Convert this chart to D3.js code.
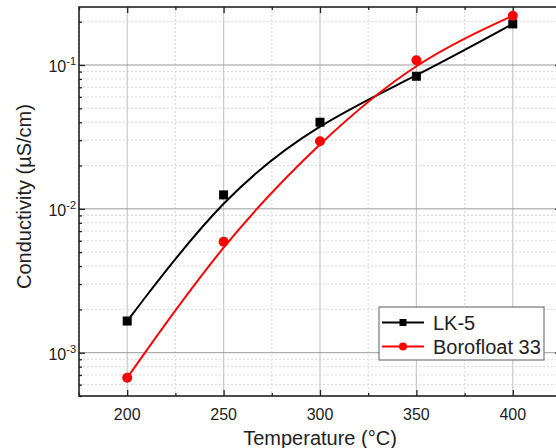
<!DOCTYPE html>
<html>
<head>
<meta charset="utf-8">
<script src="https://cdn.jsdelivr.net/npm/d3@7"></script>
<style>
    body { margin: 0; background: #fff; }
    text { font-family: "Liberation Sans", Arial, sans-serif; fill: #222; }
</style>
</head>
<body>
<div id="chart"></div>
<script>
// values
const temps = [200, 250, 300, 350, 400];
const lk5 = [0.00166, 0.0125, 0.040, 0.0835, 0.193];
const borofloat = [0.00067, 0.0059, 0.0295, 0.108, 0.22];
const seriesNames = ['LK-5', 'Borofloat 33'];
const xTicks = [200, 250, 300, 350, 400];
const yTickPowers = [-3, -2, -1];

const series = [
    { name: seriesNames[0], values: lk5, color: '#000000', shape: 'square' },
    { name: seriesNames[1], values: borofloat, color: '#ff0000', shape: 'circle' }
];

let margin = { top: 7, right: -5, bottom: 52, left: 79 };
let totalW = 556, totalH = 448;
let width = totalW - margin.left - margin.right;
let height = totalH - margin.top - margin.bottom;

let svg = d3.select('#chart').append('svg')
    .attr('width', totalW)
    .attr('height', totalH)
    .style('display', 'block');

let g = svg.append('g')
    .attr('transform', `translate(${margin.left},${margin.top})`);

let x = d3.scaleLinear().domain([175, 425]).range([0, width]);
let y = d3.scaleLog().domain([5e-4, 0.253]).range([height, 0]);

// minor values
let xMinor = d3.range(175, 426, 25).filter(v => !xTicks.includes(v));
let yMinor = [];
[-4, -3, -2, -1].forEach(p => {
    for (let k = 2; k <= 9; k++) {
        let v = k * Math.pow(10, p);
        if (v >= y.domain()[0] && v <= y.domain()[1]) yMinor.push(v);
    }
});
let yMajor = yTickPowers.map(p => Math.pow(10, p));

// grid
let grid = g.append('g').attr('class', 'grid');
grid.selectAll('.xminor').data(xMinor).enter().append('line')
    .attr('x1', d => x(d)).attr('x2', d => x(d))
    .attr('y1', 0).attr('y2', height)
    .attr('stroke', '#d8d8d8').attr('stroke-dasharray', '2,2');
grid.selectAll('.yminor').data(yMinor).enter().append('line')
    .attr('x1', 0).attr('x2', width)
    .attr('y1', d => y(d)).attr('y2', d => y(d))
    .attr('stroke', '#d8d8d8').attr('stroke-dasharray', '2,2');
grid.selectAll('.xmajor').data(xTicks).enter().append('line')
    .attr('x1', d => x(d)).attr('x2', d => x(d))
    .attr('y1', 0).attr('y2', height)
    .attr('stroke', '#c8c8c8').attr('stroke-width', 1.2);
grid.selectAll('.ymajor').data(yMajor).enter().append('line')
    .attr('x1', 0).attr('x2', width)
    .attr('y1', d => y(d)).attr('y2', d => y(d))
    .attr('stroke', '#9a9a9a').attr('stroke-width', 1);

// axes, ticks pointing inward
function tickAxis(axisFn, scale, values, size) {
    return axisFn(scale).tickValues(values).tickSize(size).tickFormat('');
}
let axes = g.append('g').attr('class', 'axes');
axes.append('g').attr('transform', `translate(0,${height})`)
    .call(tickAxis(d3.axisTop, x, xTicks, 6));
axes.append('g').attr('transform', `translate(0,${height})`)
    .call(tickAxis(d3.axisTop, x, xMinor, 3));
axes.append('g').call(tickAxis(d3.axisBottom, x, xTicks, 6));
axes.append('g').call(tickAxis(d3.axisBottom, x, xMinor, 3));
axes.append('g').call(tickAxis(d3.axisRight, y, yMajor, 6));
axes.append('g').call(tickAxis(d3.axisRight, y, yMinor, 3));
axes.append('g').attr('transform', `translate(${width},0)`)
    .call(tickAxis(d3.axisLeft, y, yMajor, 6));
axes.append('g').attr('transform', `translate(${width},0)`)
    .call(tickAxis(d3.axisLeft, y, yMinor, 3));
axes.selectAll('.domain').remove();
axes.selectAll('.tick line').attr('stroke', '#222').attr('stroke-width', 1.3);

// frame
g.append('rect')
    .attr('width', width).attr('height', height)
    .attr('fill', 'none').attr('stroke', '#222').attr('stroke-width', 1.6);

// tick labels
g.selectAll('.xlabel').data(xTicks).enter().append('text')
    .attr('x', d => x(d)).attr('y', height + 24)
    .attr('text-anchor', 'middle')
    .style('font-size', '16px')
    .text(d => d);

let yl = g.selectAll('.ylabel').data(yTickPowers).enter().append('text')
    .attr('x', -3).attr('y', d => y(Math.pow(10, d)) + 7)
    .attr('text-anchor', 'end')
    .style('font-size', '16px');
yl.append('tspan').text('10');
yl.append('tspan').attr('dy', -7).style('font-size', '11px').text(d => '-' + Math.abs(d));

// axis titles
g.append('text')
    .attr('x', (x(175) + x(425)) / 2).attr('y', height + 49)
    .attr('text-anchor', 'middle')
    .style('font-size', '20px')
    .text('Temperature (\u00B0C)');
g.append('text')
    .attr('transform', `translate(${31 - margin.left},${height / 2 - 5}) rotate(-90)`)
    .attr('text-anchor', 'middle')
    .style('font-size', '20px')
    .text('Conductivity (\u00B5S/cm)');

// curves + markers
let line = d3.line()
    .x((d, i) => x(temps[i]))
    .y(d => y(d))
    .curve(d3.curveBasis);

let plot = g.append('g').attr('class', 'plot');
series.forEach(s => {
    plot.append('path')
        .datum(s.values)
        .attr('d', line)
        .attr('fill', 'none')
        .attr('stroke', s.color)
        .attr('stroke-width', 2);
});
function marker(sel, shape, color, size) {
    if (shape === 'square') {
        sel.append('rect')
            .attr('x', -size / 2).attr('y', -size / 2)
            .attr('width', size).attr('height', size)
            .attr('fill', color);
    } else {
        sel.append('circle').attr('r', size / 2 + 0.5).attr('fill', color);
    }
}
series.forEach(s => {
    s.values.forEach((v, i) => {
        let m = plot.append('g').attr('transform', `translate(${x(temps[i])},${y(v)})`);
        marker(m, s.shape, s.color, 9);
    });
});

// legend
let legend = svg.append('g').attr('transform', 'translate(379,307)');
legend.append('rect')
    .attr('width', 165).attr('height', 53)
    .attr('fill', '#fff').attr('stroke', '#777').attr('stroke-width', 1.2);
series.forEach((s, i) => {
    let row = legend.append('g').attr('transform', `translate(0,${15.5 + i * 24})`);
    row.append('line')
        .attr('x1', 3).attr('x2', 45)
        .attr('stroke', s.color).attr('stroke-width', 2);
    let m = row.append('g').attr('transform', 'translate(24,0)');
    marker(m, s.shape, s.color, 7);
    row.append('text')
        .attr('x', 54).attr('y', 7)
        .style('font-size', '20px')
        .text(s.name);
});
</script>
</body>
</html>
